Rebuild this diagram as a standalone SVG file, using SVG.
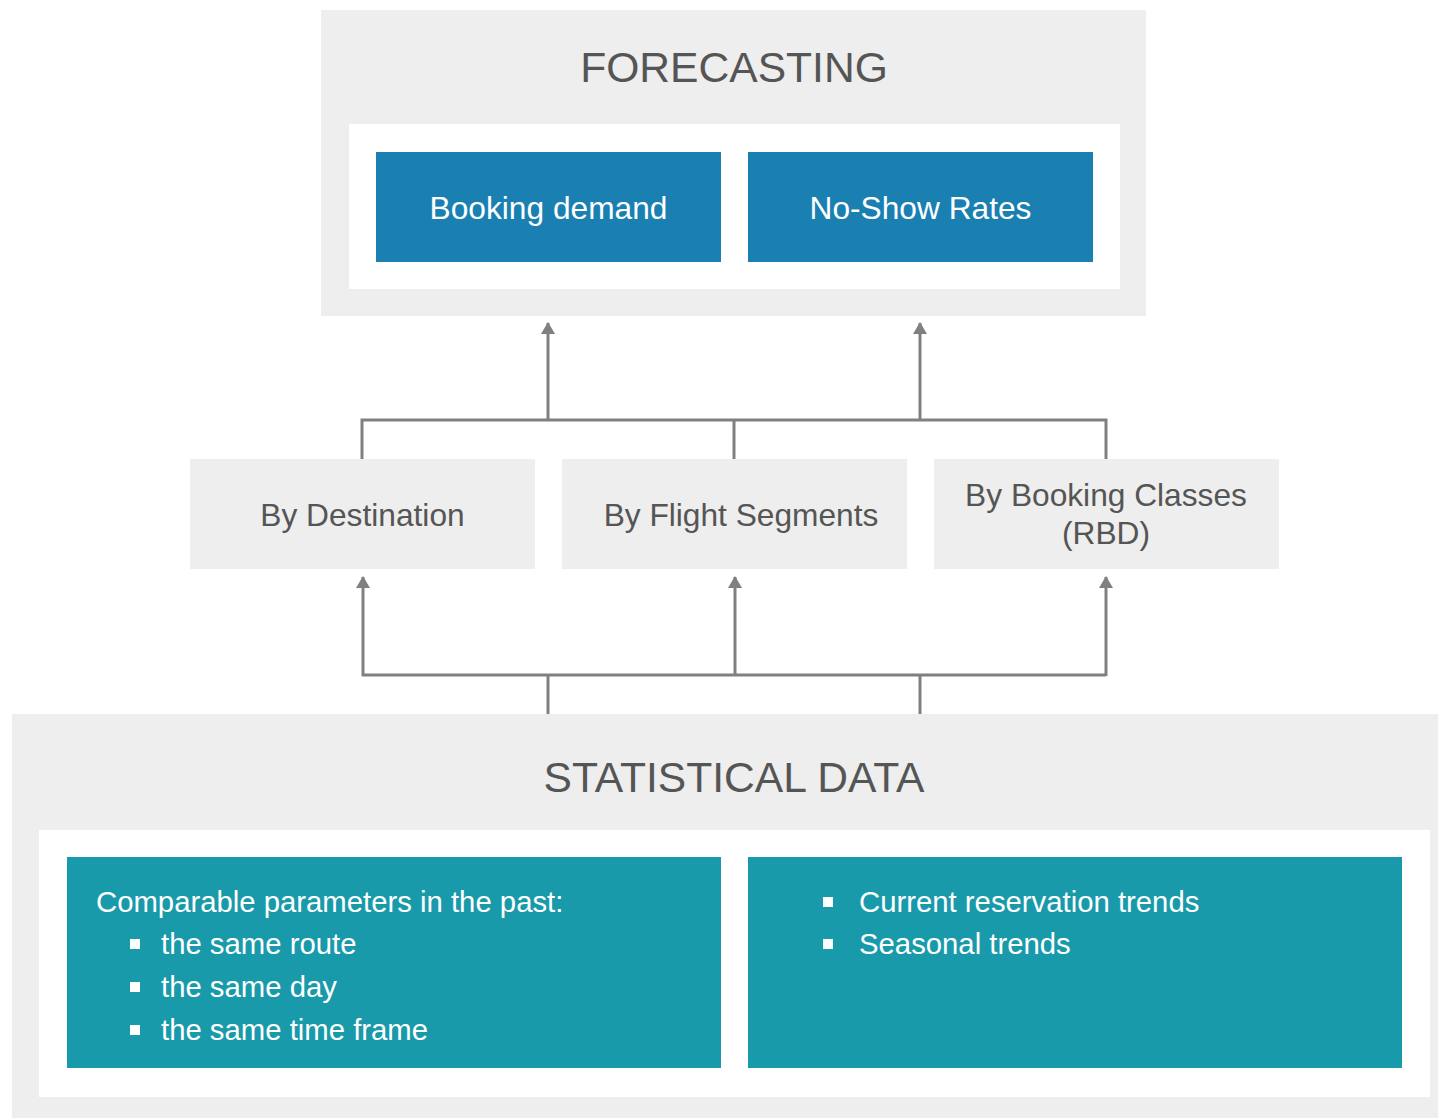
<svg xmlns="http://www.w3.org/2000/svg" width="1438" height="1118" viewBox="0 0 1438 1118">
<defs>
<style>
.outer{fill:#edeeed}
.inner{fill:#ffffff}
.blue{fill:#1a80b2}
.teal{fill:#189aaa}
.grey{fill:#edeeed}
.title{font-family:"Liberation Sans",Arial,sans-serif;font-size:42.6px;fill:#555555;text-anchor:middle}
.wt{font-family:"Liberation Sans",Arial,sans-serif;font-size:31.7px;fill:#ffffff;text-anchor:middle}
.gt{font-family:"Liberation Sans",Arial,sans-serif;font-size:31.7px;fill:#555555;text-anchor:middle}
.lt{font-family:"Liberation Sans",Arial,sans-serif;font-size:29.3px;fill:#ffffff}
.bul{fill:#ffffff}
.ln{fill:none;stroke:#808083;stroke-width:3}
</style>
<marker id="ah" markerWidth="12" markerHeight="14" refX="11" refY="7" orient="auto" markerUnits="userSpaceOnUse" viewBox="0 0 12 14">
<path d="M12 7 L0 0 L0 14 Z" fill="#808083"/>
</marker>
</defs>
<rect width="1438" height="1118" fill="#ffffff"/>

<g id="forecasting">
<rect class="outer" x="321" y="10" width="825" height="306"/>
<rect class="inner" x="349" y="124" width="771" height="165"/>
<text class="title" x="734" y="82">FORECASTING</text>
</g>
<g id="booking-demand">
<rect class="blue" x="376" y="152" width="345" height="110"/>
<text class="wt" x="548.5" y="219">Booking demand</text>
</g>
<g id="no-show-rates">
<rect class="blue" x="748" y="152" width="345" height="110"/>
<text class="wt" x="920.5" y="219">No-Show Rates</text>
</g>

<g id="by-destination">
<rect class="grey" x="190" y="459" width="345" height="110"/>
<text class="gt" x="362.5" y="526">By Destination</text>
</g>
<g id="by-flight-segments">
<rect class="grey" x="562" y="459" width="345" height="110"/>
<text class="gt" x="741" y="526">By Flight Segments</text>
</g>
<g id="by-booking-classes">
<rect class="grey" x="934" y="459" width="345" height="110"/>
<text class="gt" x="1106" y="506">By Booking Classes</text>
<text class="gt" x="1106" y="544">(RBD)</text>
</g>

<g id="statistical-data">
<rect class="outer" x="12" y="714" width="1426" height="404"/>
<rect class="inner" x="39" y="830" width="1391" height="267"/>
<text class="title" x="734" y="792">STATISTICAL DATA</text>
</g>
<g id="comparable-parameters">
<rect class="teal" x="67" y="857" width="654" height="211"/>
<text class="lt" x="96" y="912">Comparable parameters in the past:</text>
<rect class="bul" x="130" y="939" width="10" height="10"/>
<text class="lt" x="161" y="954">the same route</text>
<rect class="bul" x="130" y="982" width="10" height="10"/>
<text class="lt" x="161" y="997">the same day</text>
<rect class="bul" x="130" y="1025" width="10" height="10"/>
<text class="lt" x="161" y="1040">the same time frame</text>
</g>
<g id="trends">
<rect class="teal" x="748" y="857" width="654" height="211"/>
<rect class="bul" x="823" y="897" width="10" height="10"/>
<text class="lt" x="859" y="912">Current reservation trends</text>
<rect class="bul" x="823" y="939" width="10" height="10"/>
<text class="lt" x="859" y="954">Seasonal trends</text>
</g>

<g id="connectors">
<path class="ln" d="M362 459 V420 H1106 V459 M734 420 V459"/>
<line class="ln" x1="548" y1="420" x2="548" y2="323" marker-end="url(#ah)"/>
<line class="ln" x1="920" y1="420" x2="920" y2="323" marker-end="url(#ah)"/>
<path class="ln" d="M548 714 V675 M920 714 V675 M362 675 H1106"/>
<line class="ln" x1="363" y1="676" x2="363" y2="577" marker-end="url(#ah)"/>
<line class="ln" x1="735" y1="676" x2="735" y2="577" marker-end="url(#ah)"/>
<line class="ln" x1="1106" y1="676" x2="1106" y2="577" marker-end="url(#ah)"/>
</g>
</svg>
